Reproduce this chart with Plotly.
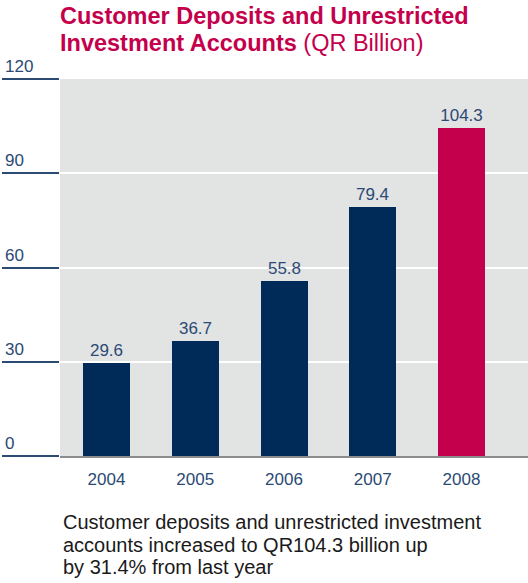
import plotly.graph_objects as go

years = ["2004", "2005", "2006", "2007", "2008"]
values = [29.6, 36.7, 55.8, 79.4, 104.3]
value_labels = ["29.6", "36.7", "55.8", "79.4", "104.3"]
y_ticks = [0, 30, 60, 90, 120]
y_tick_labels = ["0", "30", "60", "90", "120"]
title_line1 = "Customer Deposits and Unrestricted"
title_line2_bold = "Investment Accounts"
title_line2_regular = " (QR Billion)"
footnote_lines = [
    "Customer deposits and unrestricted investment",
    "accounts increased to QR104.3 billion up",
    "by 31.4% from last year",
]

NAVY = "#002a57"
CRIMSON = "#c4004c"
LABEL = "#2b4a74"
FONT = "Liberation Sans, Arial, sans-serif"

W, H = 528, 583
L, R, T, B = 60, 0, 79.3, 583 - 456.3
plot_h = H - T - B
plot_w = W - L - R

def py(pix):
    return (H - B - pix) / plot_h

bar_colors = [NAVY] * (len(years) - 1) + [CRIMSON]

fig = go.Figure()
fig.add_trace(go.Bar(
    x=list(range(len(years))), y=values,
    marker=dict(color=bar_colors, line=dict(width=0)),
    width=0.53,
    text=value_labels, textposition="outside",
    textfont=dict(family=FONT, size=17, color=LABEL),
    cliponaxis=False, hoverinfo="skip",
))

annotations = []
for v, lab in zip(y_ticks, y_tick_labels):
    annotations.append(dict(
        x=(3 - L) / plot_w, xref="paper", xanchor="left",
        y=v, yref="y", yanchor="bottom", yshift=1,
        text=lab, showarrow=False,
        font=dict(family=FONT, size=17, color=LABEL),
    ))

annotations.append(dict(
    x=0, xref="paper", xanchor="left", xshift=-2,
    y=py(31), yref="paper", yanchor="bottom",
    text="<b>" + title_line1 + "</b>", showarrow=False,
    font=dict(family=FONT, size=23.5, color=CRIMSON),
))
annotations.append(dict(
    x=0, xref="paper", xanchor="left", xshift=-2,
    y=py(58.5), yref="paper", yanchor="bottom",
    text="<b>" + title_line2_bold + "</b>" + title_line2_regular, showarrow=False,
    font=dict(family=FONT, size=23.5, color=CRIMSON),
))
for i, (line, base) in enumerate(zip(footnote_lines, [530, 553, 575])):
    annotations.append(dict(
        x=0, xref="paper", xanchor="left", xshift=1,
        y=py(base + 5), yref="paper", yanchor="bottom",
        text=line, showarrow=False,
        font=dict(family=FONT, size=20, color="#1a1a1a"),
    ))

fig.update_layout(
    width=W, height=H,
    margin=dict(l=L, r=R, t=T, b=B, pad=0),
    paper_bgcolor="white", plot_bgcolor="#e2e3e3",
    showlegend=False, bargap=0,
    annotations=annotations,
    xaxis=dict(
        range=[-0.524, 4.749],
        tickvals=list(range(len(years))), ticktext=years,
        tickfont=dict(family=FONT, size=17, color=LABEL),
        ticks="outside", ticklen=7, tickcolor="rgba(0,0,0,0)",
        showgrid=False, zeroline=False,
        showline=True, linecolor="#8c8c8c", linewidth=2,
        fixedrange=True,
    ),
    yaxis=dict(
        range=[0, 120], tickvals=y_ticks, showticklabels=False,
        ticks="outside", ticklen=57, tickwidth=1.5, tickcolor=LABEL,
        showgrid=True, gridcolor="white", gridwidth=1.5,
        zeroline=False, showline=False, fixedrange=True,
    ),
)

fig.write_html(
    "out.html",
    config={"displayModeBar": False},
    post_script="document.body.style.margin='0';document.body.style.overflow='hidden';",
)
